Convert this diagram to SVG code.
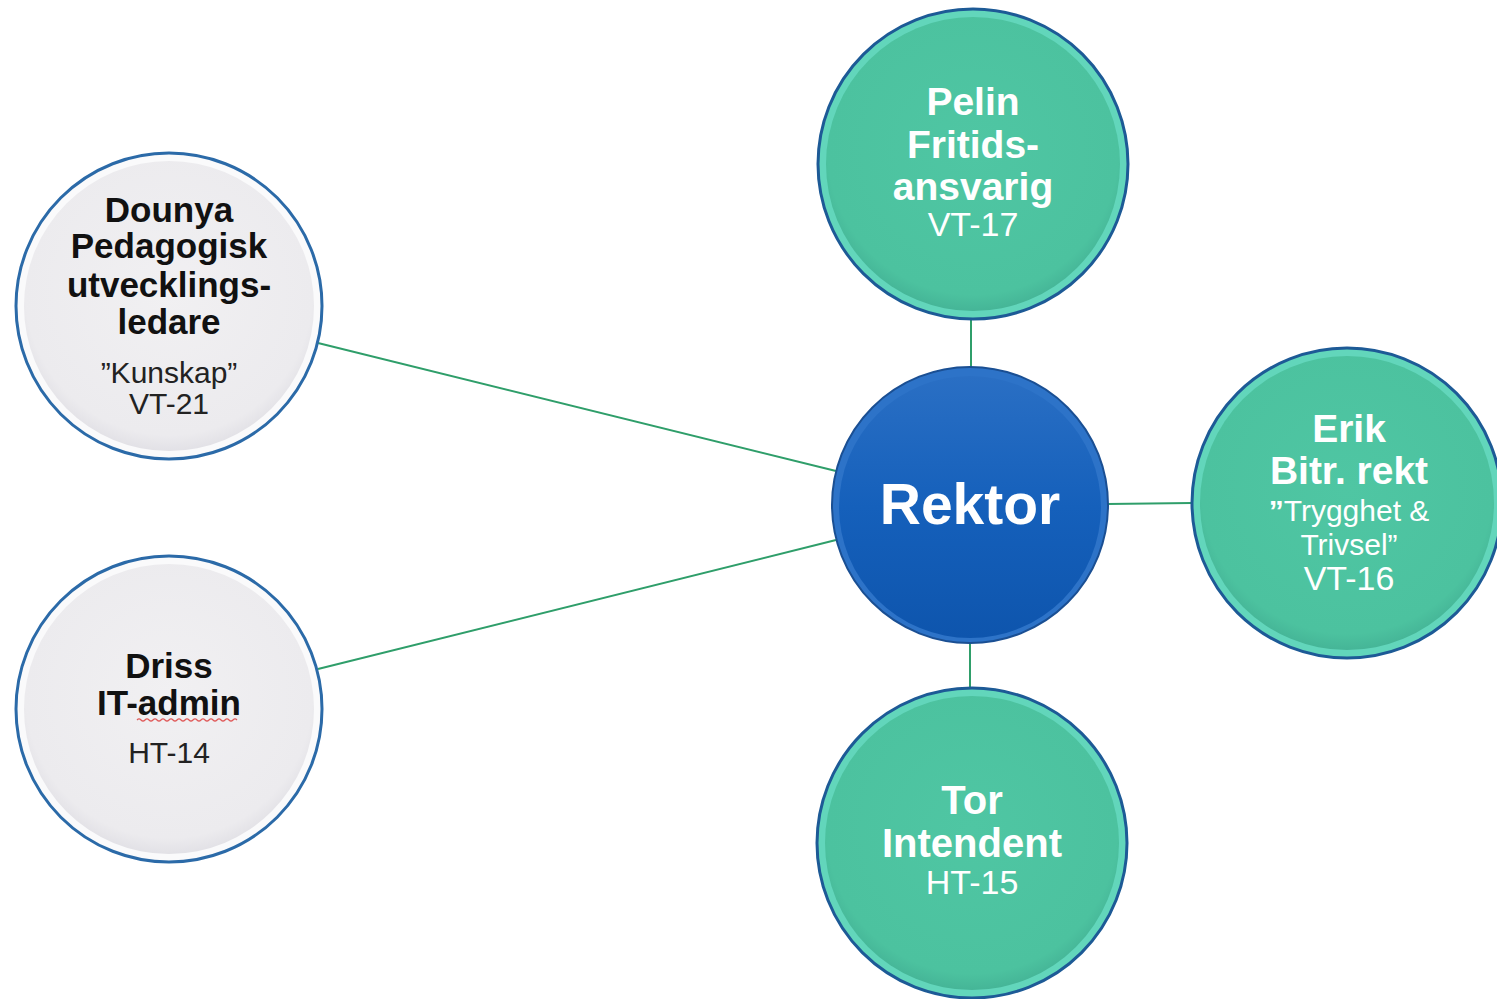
<svg xmlns="http://www.w3.org/2000/svg" width="1497" height="999" viewBox="0 0 1497 999">
<defs>
<style>
.t{font-family:"Liberation Sans",Arial,sans-serif;text-anchor:middle}
.b{font-weight:bold}
.dk{fill:#111}
.wh{fill:#fff}
.conn{stroke:#2f9e6a;stroke-width:2;fill:none}
</style>
<radialGradient id="gGray" cx="50%" cy="45%" r="55%">
<stop offset="0" stop-color="#f1f0f2"/>
<stop offset="0.9" stop-color="#ecebee"/>
<stop offset="1" stop-color="#e2e1e6"/>
</radialGradient>
<radialGradient id="gTeal" cx="50%" cy="45%" r="55%">
<stop offset="0" stop-color="#4fc6a3"/>
<stop offset="0.9" stop-color="#4cc29f"/>
<stop offset="1" stop-color="#45b597"/>
</radialGradient>
<linearGradient id="gBlue" x1="0" y1="0" x2="0" y2="1">
<stop offset="0" stop-color="#2a6fc4"/>
<stop offset="0.5" stop-color="#1560bb"/>
<stop offset="1" stop-color="#0e55ad"/>
</linearGradient>
</defs>
<rect width="1497" height="999" fill="#fff"/>
<g id="connectors">
<line class="conn" x1="318" y1="343" x2="836" y2="471"/>
<line class="conn" x1="318" y1="669" x2="836" y2="540"/>
<line class="conn" x1="971" y1="319" x2="971" y2="368"/>
<line class="conn" x1="1107" y1="504" x2="1192" y2="503"/>
<line class="conn" x1="970" y1="644" x2="970" y2="687"/>
</g>
<g id="dounya">
<circle cx="169" cy="306" r="153" fill="#fafafb" stroke="#2b6aa8" stroke-width="3"/>
<circle cx="169" cy="306" r="145" fill="url(#gGray)"/>
<text class="t b dk" font-size="35"><tspan x="169" y="222">Dounya</tspan><tspan x="169" y="258">Pedagogisk</tspan><tspan x="169" y="297">utvecklings-</tspan><tspan x="169" y="334">ledare</tspan></text>
<text class="t" font-size="30" fill="#222"><tspan x="169" y="383">”Kunskap”</tspan><tspan x="169" y="414">VT-21</tspan></text>
</g>
<g id="driss">
<circle cx="169" cy="709" r="153" fill="#fafafb" stroke="#2b6aa8" stroke-width="3"/>
<circle cx="169" cy="709" r="145" fill="url(#gGray)"/>
<text class="t b dk" font-size="35"><tspan x="169" y="678">Driss</tspan><tspan x="169" y="715">IT-admin</tspan></text>
<path d="M137 720 q2 -2 4 0 t4 0 t4 0 t4 0 t4 0 t4 0 t4 0 t4 0 t4 0 t4 0 t4 0 t4 0 t4 0 t4 0 t4 0 t4 0 t4 0 t4 0 t4 0 t4 0 t4 0 t4 0 t4 0 t4 0 t4 0" fill="none" stroke="#e05a5a" stroke-width="1.2"/>
<text class="t" font-size="30" fill="#222" x="169" y="763">HT-14</text>
</g>
<g id="pelin">
<circle cx="973" cy="164" r="155" fill="#62d6bb" stroke="#1d5a96" stroke-width="3"/>
<circle cx="973" cy="164" r="147" fill="url(#gTeal)"/>
<text class="t b wh" font-size="39"><tspan x="973" y="115">Pelin</tspan><tspan x="973" y="158">Fritids-</tspan><tspan x="973" y="200">ansvarig</tspan></text>
<text class="t wh" font-size="34" x="973" y="236">VT-17</text>
</g>
<g id="rektor">
<circle cx="970" cy="505" r="138" fill="#2d73c8" stroke="#1a4f93" stroke-width="2"/>
<circle cx="970" cy="507" r="131" fill="url(#gBlue)"/>
<text class="t b wh" font-size="57" x="970" y="524">Rektor</text>
</g>
<g id="erik">
<circle cx="1347" cy="503" r="155" fill="#62d6bb" stroke="#1d5a96" stroke-width="3"/>
<circle cx="1347" cy="503" r="147" fill="url(#gTeal)"/>
<text class="t b wh" font-size="39"><tspan x="1349" y="442">Erik</tspan><tspan x="1349" y="484">Bitr. rekt</tspan></text>
<text class="t wh" font-size="30"><tspan x="1349" y="521"><tspan font-weight="bold">”</tspan>Trygghet &amp;</tspan><tspan x="1349" y="555">Trivsel”</tspan></text>
<text class="t wh" font-size="34" x="1349" y="590">VT-16</text>
</g>
<g id="tor">
<circle cx="972" cy="843" r="155" fill="#62d6bb" stroke="#1d5a96" stroke-width="3"/>
<circle cx="972" cy="843" r="147" fill="url(#gTeal)"/>
<text class="t b wh" font-size="40"><tspan x="972" y="814">Tor</tspan><tspan x="972" y="857">Intendent</tspan></text>
<text class="t wh" font-size="34" x="972" y="894">HT-15</text>
</g>
</svg>
